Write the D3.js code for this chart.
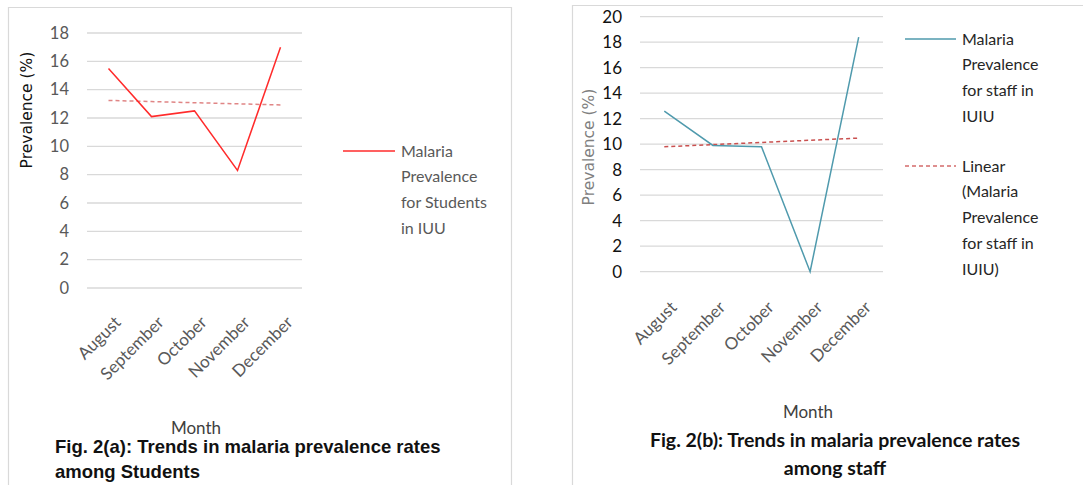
<!DOCTYPE html>
<html>
<head>
<meta charset="utf-8">
<script src="https://cdn.jsdelivr.net/npm/d3@7"></script>
<style>
  body { margin: 0; background: #fff; }
  svg { display: block; }
</style>
</head>
<body>
<div id="chart"></div>
<script>
// data
const months = ["August", "September", "October", "November", "December"];
const studentValues = [15.5, 12.1, 12.5, 8.3, 17.0];
const staffValues = [12.6, 9.9, 9.8, 0, 18.4];
const studentTicks = [0, 2, 4, 6, 8, 10, 12, 14, 16, 18];
const staffTicks = [0, 2, 4, 6, 8, 10, 12, 14, 16, 18, 20];

const W = 1083, H = 485;
const font = "Lato, 'Open Sans', sans-serif";

const svg = d3.select("#chart").append("svg")
  .attr("width", W).attr("height", H);

// least squares trend (excel "Linear" trendline)
function trend(vals) {
  const n = vals.length;
  const xs = d3.range(1, n + 1);
  const mx = d3.mean(xs), my = d3.mean(vals);
  const slope = d3.sum(xs, (x, i) => (x - mx) * (vals[i] - my)) / d3.sum(xs, x => (x - mx) ** 2);
  return xs.map(x => my + slope * (x - mx));
}

function panel(o) {
  const g = svg.append("g");

  // frame
  g.append("path")
    .attr("d", o.frame)
    .attr("fill", "none").attr("stroke", "#d9d9d9").attr("stroke-width", 1.2);

  const x = d3.scalePoint().domain(months).range([o.x0, o.x1]).padding(0.5);
  const y = d3.scaleLinear().domain([0, d3.max(o.ticks)]).range([o.y0, o.y1]);

  // gridlines
  g.append("g").selectAll("line").data(o.ticks).join("line")
    .attr("x1", o.x0).attr("x2", o.x1)
    .attr("y1", d => y(d)).attr("y2", d => y(d))
    .attr("stroke", "#d9d9d9").attr("stroke-width", 1.3);

  // y tick labels
  g.append("g").selectAll("text").data(o.ticks).join("text")
    .attr("x", o.tickX).attr("y", d => y(d)).attr("dy", "0.35em")
    .attr("text-anchor", "end")
    .attr("font-family", font).attr("font-size", o.tickSize)
    .attr("fill", o.tickColor)
    .text(d => d);

  // x labels rotated
  g.append("g").selectAll("text").data(months).join("text")
    .attr("transform", d => `translate(${x(d) + 5},${o.xLabY}) rotate(-45)`)
    .attr("text-anchor", "end").attr("dy", "0.7em")
    .attr("font-family", font).attr("font-size", 17)
    .attr("fill", "#595959")
    .text(d => d);

  // y axis title
  g.append("text")
    .attr("transform", `translate(${o.yTitleX},${o.yTitleY}) rotate(-90)`)
    .attr("text-anchor", "middle").attr("dy", "0.35em")
    .attr("font-family", "'DejaVu Sans', sans-serif").attr("font-size", 15.5)
    .attr("fill", o.yTitleColor)
    .text("Prevalence (%)");

  // x axis title
  g.append("text")
    .attr("x", o.monthX).attr("y", o.monthY).attr("dy", "0.35em")
    .attr("text-anchor", "middle")
    .attr("font-family", font).attr("font-size", 17).attr("fill", "#404040")
    .text("Month");

  // trend line
  const tr = trend(o.values);
  g.append("path")
    .datum(tr)
    .attr("fill", "none").attr("stroke", o.trendColor).attr("stroke-width", 1.5)
    .attr("stroke-dasharray", "4,3")
    .attr("d", d3.line().x((d, i) => x(months[i])).y(d => y(d)));

  // data line
  g.append("path")
    .datum(o.values)
    .attr("fill", "none").attr("stroke", o.color).attr("stroke-width", 1.5)
    .attr("d", d3.line().x((d, i) => x(months[i])).y(d => y(d)));

  // legend
  o.legend.forEach(item => {
    g.append("line")
      .attr("x1", item.lx0).attr("x2", item.lx1)
      .attr("y1", item.y).attr("y2", item.y)
      .attr("stroke", item.color).attr("stroke-width", 1.5)
      .attr("stroke-dasharray", item.dash || null);
    g.append("g").selectAll("text").data(item.lines).join("text")
      .attr("x", item.tx).attr("y", (d, i) => item.y + i * item.step).attr("dy", "0.35em")
      .attr("font-family", font).attr("font-size", 16).attr("fill", o.legendColor)
      .text(d => d);
  });

  // caption
  g.append("g").selectAll("text").data(o.caption).join("text")
    .attr("x", o.capX).attr("y", (d, i) => o.capY + i * o.capStep).attr("dy", "0.35em")
    .attr("text-anchor", o.capAnchor)
    .attr("font-family", o.capFont).attr("font-size", o.capSize).attr("font-weight", "bold")
    .attr("fill", "#111")
    .text(d => d);
}

panel({
  frame: "M8.5,490 V7.5 H511.5 V490",
  x0: 87, x1: 302, y0: 288, y1: 33,
  ticks: studentTicks, values: studentValues,
  tickX: 69, tickSize: 16.5, tickColor: "#595959",
  xLabY: 315,
  yTitleX: 27, yTitleY: 110, yTitleColor: "#111",
  monthX: 196, monthY: 428,
  color: "#ff2b2b", trendColor: "#e08585",
  legendColor: "#595959",
  legend: [
    { lx0: 343, lx1: 395, y: 151, tx: 401, step: 25.8, color: "#ff2b2b",
      lines: ["Malaria", "Prevalence", "for Students", "in IUU"] }
  ],
  caption: ["Fig. 2(a): Trends in malaria prevalence rates", "among Students"],
  capX: 55, capY: 447, capStep: 25, capAnchor: "start",
  capFont: "'Liberation Sans', Arial, sans-serif", capSize: 18.5
});

panel({
  frame: "M572.5,490 V5.5 H1083",
  x0: 640, x1: 883, y0: 271.7, y1: 16.7,
  ticks: staffTicks, values: staffValues,
  tickX: 622, tickSize: 17, tickColor: "#111",
  xLabY: 300,
  yTitleX: 589, yTitleY: 147, yTitleColor: "#7f7f7f",
  monthX: 808, monthY: 412,
  color: "#4f9aad", trendColor: "#c9504f",
  legendColor: "#262626",
  legend: [
    { lx0: 905, lx1: 956, y: 39, tx: 962, step: 25.8, color: "#4f9aad",
      lines: ["Malaria", "Prevalence", "for staff in", "IUIU"] },
    { lx0: 905, lx1: 956, y: 166, tx: 962, step: 25.8, color: "#d36b6b", dash: "4,3",
      lines: ["Linear", "(Malaria", "Prevalence", "for staff in", "IUIU)"] }
  ],
  caption: ["Fig. 2(b): Trends in malaria prevalence rates", "among staff"],
  capX: 835, capY: 440, capStep: 28, capAnchor: "middle",
  capFont: font, capSize: 19.5
});
</script>
</body>
</html>
